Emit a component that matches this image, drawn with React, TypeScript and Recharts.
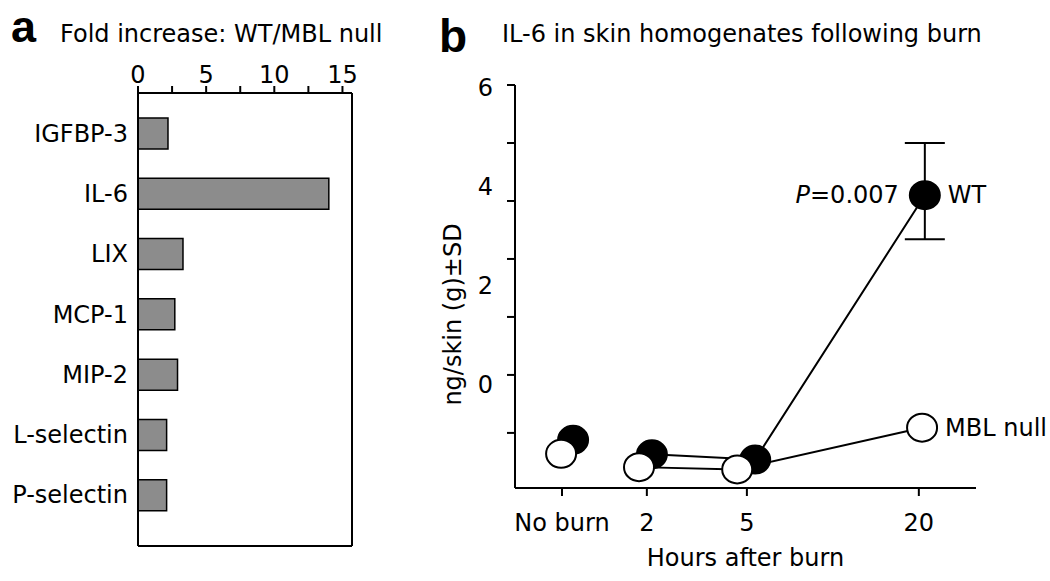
// Two-panel figure: (a) fold increase bars, (b) IL-6 after burn
import React from "react";
import {
  BarChart, Bar, XAxis, YAxis, ReferenceLine,
  ComposedChart, Scatter, ErrorBar, ReferenceDot,
} from "recharts";

// panel a
const markers = ["IGFBP-3", "IL-6", "LIX", "MCP-1", "MIP-2", "L-selectin", "P-selectin"];
const foldIncrease = [2.2, 14.0, 3.3, 2.7, 2.9, 2.1, 2.1];
const foldTicks = [0, 2.5, 5, 7.5, 10, 12.5, 15];

// panel b
const timeLabels = ["No burn", "2", "5", "20"];
const timeTicks = [1.02, 2.86, 5.03, 8.76];
const wtX = [1.26, 2.97, 5.21, 8.89];
const wtY = [-0.12, -0.37, -0.46, 4.1];
const wtErr = [null, null, null, [0.76, 0.9]];
const mblX = [1.0, 2.69, 4.82, 8.83];
const mblY = [-0.36, -0.59, -0.63, 0.09];
const yTicks = [0, 1, 2, 3, 4, 5, 6];
const yLabelled = [0, 2, 4, 6];

const FONT = "DejaVu Sans";

const barData = markers.map((name, i) => ({ name, value: foldIncrease[i] }));
const wtData = wtX.map((x, i) => ({ x, y: wtY[i], err: wtErr[i] }));
const mblData = mblX.map((x, i) => ({ x, y: mblY[i] }));

const dot = (fill: string) => (p: any) => (
  <ellipse cx={p.cx} cy={p.cy} rx={15} ry={14} fill={fill} stroke="#000" strokeWidth={2} />
);

const axisStroke = { stroke: "#000", strokeWidth: 2 };
const tickStyle = { fill: "#000", fontSize: 24, fontFamily: FONT };

// the printed figure sets its y labels a little above their tick marks, more so lower down
const YLabelTick = (props: any) => {
  const v = props.payload.value;
  if (!yLabelled.includes(v)) return null;
  const dy = 3 - (6 - v) * 8.5;
  return (
    <text x={props.x - 12} y={props.y + dy} textAnchor="end" dominantBaseline="central"
      fontSize={24} fontFamily={FONT} fill="#000">{v}</text>
  );
};

export default function App() {
  return (
    <div style={{ position: "absolute", left: 0, top: 0, width: 1050, height: 581, background: "#fff", fontFamily: FONT }}>
      <svg width={1050} height={581} style={{ position: "absolute", left: 0, top: 0 }}>
        <text x={11} y={42} fontFamily="Liberation Sans" fontWeight="bold" fontSize={45}>a</text>
        <text x={60} y={42} fontFamily={FONT} fontSize={24}>Fold increase: WT/MBL null</text>
        <text x={439} y={52} fontFamily="Liberation Sans" fontWeight="bold" fontSize={46}>b</text>
        <text x={502} y={42} fontFamily={FONT} fontSize={24}>IL-6 in skin homogenates following burn</text>
      </svg>

      <div style={{ position: "absolute", left: 0, top: 0 }}>
        <BarChart width={370} height={581} data={barData} layout="vertical"
          margin={{ top: 53, right: 18, bottom: 25, left: 0 }}>
          <XAxis xAxisId="top" type="number" orientation="top" domain={[0, 15.7]} ticks={foldTicks}
            tickFormatter={(v: number) => (v % 5 === 0 ? String(v) : "")} height={40}
            tickSize={7} tickMargin={3} axisLine={axisStroke} tickLine={axisStroke} tick={tickStyle} />
          <XAxis xAxisId="bottom" type="number" orientation="bottom" domain={[0, 15.7]} ticks={foldTicks}
            tickFormatter={() => ""} height={10} tickSize={7} axisLine={axisStroke} tickLine={axisStroke} />
          <YAxis type="category" dataKey="name" width={138} tickLine={false} tickSize={0} tickMargin={10}
            padding={{ top: 10, bottom: 21 }} axisLine={axisStroke} tick={tickStyle} interval={0} />
          <ReferenceLine xAxisId="top" x={15.7} stroke="#000" strokeWidth={2} />
          <Bar xAxisId="top" dataKey="value" fill="#8c8c8c" stroke="#000" strokeWidth={1.5}
            barSize={31} isAnimationActive={false} />
        </BarChart>
      </div>

      <div style={{ position: "absolute", left: 400, top: 0 }}>
        <ComposedChart width={650} height={581} margin={{ top: 85, right: 74, bottom: 10, left: 0 }}>
          <XAxis type="number" dataKey="x" domain={[0, 10]} ticks={timeTicks}
            tickFormatter={(v: number) => timeLabels[timeTicks.indexOf(v)]} height={83}
            tickSize={8} tickMargin={18} axisLine={axisStroke} tickLine={axisStroke} tick={tickStyle}
            label={{ value: "Hours after burn", position: "insideBottom", offset: 5, fill: "#000", fontSize: 24, fontFamily: FONT }} />
          <YAxis type="number" dataKey="y" domain={[-0.95, 6]} ticks={yTicks} interval={0}
            width={115} tickSize={8} axisLine={axisStroke} tickLine={axisStroke} tick={<YLabelTick />}
            label={{
              content: ({ viewBox }: any) => {
                const cx = viewBox.x + 53;
                const cy = viewBox.y + viewBox.height / 2 + 28;
                return (
                  <text x={cx} y={cy} transform={`rotate(-90, ${cx}, ${cy})`} textAnchor="middle"
                    dominantBaseline="central" fontSize={24} fontFamily={FONT} fill="#000">
                    ng/skin (g)±SD
                  </text>
                );
              },
            }} />
          <Scatter data={wtData.slice(0, 1)} shape={dot("#000")} isAnimationActive={false} />
          <Scatter data={wtData.slice(1)} shape={dot("#000")} line={{ stroke: "#000", strokeWidth: 2 }}
            isAnimationActive={false}>
            <ErrorBar dataKey="err" direction="y" width={20} stroke="#000" strokeWidth={2} />
          </Scatter>
          <Scatter data={mblData.slice(0, 1)} shape={dot("#fff")} isAnimationActive={false} />
          <Scatter data={mblData.slice(1)} shape={dot("#fff")} line={{ stroke: "#000", strokeWidth: 2 }}
            isAnimationActive={false} />
          <ReferenceDot x={wtX[3]} y={wtY[3]} r={1} fill="none" stroke="none"
            label={{
              content: ({ viewBox }: any) => {
                const cx = viewBox.x + viewBox.width / 2;
                const cy = viewBox.y + viewBox.height / 2;
                return (
                  <g fontSize={24} fontFamily={FONT} fill="#000">
                    <text x={cx - 26} y={cy} textAnchor="end" dominantBaseline="central">
                      <tspan fontStyle="italic">P</tspan>=0.007
                    </text>
                    <text x={cx + 23} y={cy} dominantBaseline="central">WT</text>
                  </g>
                );
              },
            }} />
          <ReferenceDot x={mblX[3]} y={mblY[3]} r={1} fill="none" stroke="none"
            label={{ value: "MBL null", position: "right", offset: 22, fill: "#000", fontSize: 24, fontFamily: FONT }} />
        </ComposedChart>
      </div>
    </div>
  );
}
